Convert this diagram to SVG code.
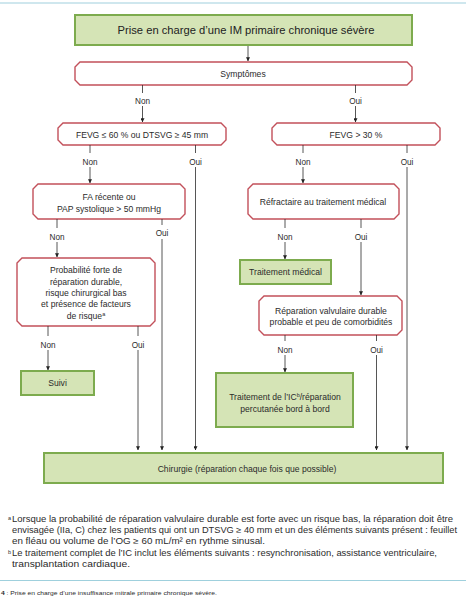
<svg xmlns="http://www.w3.org/2000/svg" width="466" height="600" viewBox="0 0 466 600">
<defs>
<marker id="ah" viewBox="0 0 6 6" refX="5.5" refY="3" markerWidth="4" markerHeight="4" orient="auto" markerUnits="userSpaceOnUse">
<path d="M0,0 L6,3 L0,6 z" fill="#222"/>
</marker>
<style>
text{font-family:"Liberation Sans",Arial,sans-serif;fill:#2b2b2b;}
.g{fill:#d5e4b6;stroke:#7dab4e;stroke-width:2;}
.r{fill:#fff;stroke:#c2505a;stroke-width:1.4;}
.t{font-size:8.6px;text-anchor:middle;}
.lb{font-size:8.2px;text-anchor:middle;}
.c{stroke:#2b2b2b;stroke-width:0.8;fill:none;}
.a{stroke:#2b2b2b;stroke-width:0.8;fill:none;marker-end:url(#ah);}
.fn{font-size:8.7px;}
.sep{stroke:#9fd0dd;stroke-width:1.2;}
</style>
</defs>
<rect width="466" height="600" fill="#fff"/>
<line class="sep" x1="0" y1="3" x2="466" y2="3"/>
<g id="title">
<rect class="g" x="75" y="15" width="337" height="30"/>
<text x="246" y="34" style="font-size:11.2px;text-anchor:middle;fill:#222">Prise en charge d’une IM primaire chronique sévère</text>
</g>
<g id="symptomes">
<path class="r" d="M80,62 H407 L412,67 V80 L407,85 H80 L75,80 V67 Z"/>
<text class="t" x="243" y="77">Symptômes</text>
</g>
<g id="fevg60">
<path class="r" d="M63,123 H221 L226,128 V140 L221,145 H63 L58,140 V128 Z"/>
<text class="t" x="142" y="138">FEVG ≤ 60 % ou DTSVG ≥ 45 mm</text>
</g>
<g id="fevg30">
<path class="r" d="M277,123 H435 L440,128 V140 L435,145 H277 L272,140 V128 Z"/>
<text class="t" x="356" y="138">FEVG &gt; 30 %</text>
</g>
<g id="fa">
<path class="r" d="M38,184 H180 L185,189 V214 L180,219 H38 L33,214 V189 Z"/>
<text class="t" x="109" y="200">FA récente ou</text>
<text class="t" x="109" y="212">PAP systolique &gt; 50 mmHg</text>
</g>
<g id="refractaire">
<path class="r" d="M253,184 H394 L399,189 V214 L394,219 H253 L248,214 V189 Z"/>
<text class="t" x="323" y="205">Réfractaire au traitement médical</text>
</g>
<g id="probabilite">
<path class="r" d="M22,258 H150 L155,263 V321 L150,326 H22 L17,321 V263 Z"/>
<text class="t" x="86" y="273">Probabilité forte de</text>
<text class="t" x="86" y="285">réparation durable,</text>
<text class="t" x="86" y="296">risque chirurgical bas</text>
<text class="t" x="86" y="307">et présence de facteurs</text>
<text class="t" x="86" y="319">de risque<tspan style="font-size:5.5px" dy="-3">a</tspan></text>
</g>
<g id="traitement-medical">
<rect class="g" x="240" y="260" width="91" height="24"/>
<text class="t" x="285.5" y="275">Traitement médical</text>
</g>
<g id="reparation">
<path class="r" d="M264,296 H397 L402,301 V330 L397,335 H264 L259,330 V301 Z"/>
<text class="t" x="331" y="314">Réparation valvulaire durable</text>
<text class="t" x="331" y="325">probable et peu de comorbidités</text>
</g>
<g id="suivi">
<rect class="g" x="21" y="371" width="73" height="24"/>
<text class="t" x="57.5" y="386">Suivi</text>
</g>
<g id="traitement-ic">
<rect class="g" x="216" y="373" width="137" height="54"/>
<text class="t" x="285" y="400">Traitement de l’IC<tspan style="font-size:5.5px" dy="-3">b</tspan><tspan dy="3">/réparation</tspan></text>
<text class="t" x="285" y="412">percutanée bord à bord</text>
</g>
<g id="chirurgie">
<rect class="g" x="44" y="453" width="399" height="30"/>
<text class="t" x="247" y="472">Chirurgie (réparation chaque fois que possible)</text>
</g>
<g id="connectors">
<line class="a" x1="248" y1="46" x2="248" y2="61"/>
<line class="c" x1="142.5" y1="85" x2="142.5" y2="93"/>
<line class="a" x1="142.5" y1="106" x2="142.5" y2="122"/>
<line class="c" x1="355.5" y1="85" x2="355.5" y2="93"/>
<line class="a" x1="355.5" y1="106" x2="355.5" y2="122"/>
<line class="c" x1="90" y1="145" x2="90" y2="153"/>
<line class="a" x1="90" y1="167" x2="90" y2="183"/>
<line class="c" x1="195.5" y1="145" x2="195.5" y2="153"/>
<line class="a" x1="195.5" y1="167" x2="195.5" y2="450"/>
<line class="c" x1="303" y1="145" x2="303" y2="153"/>
<line class="a" x1="303" y1="167" x2="303" y2="183"/>
<line class="c" x1="407" y1="145" x2="407" y2="153"/>
<line class="a" x1="407" y1="167" x2="407" y2="450"/>
<line class="c" x1="57" y1="219" x2="57" y2="228"/>
<line class="a" x1="57" y1="242" x2="57" y2="257"/>
<line class="c" x1="162" y1="219" x2="162" y2="225"/>
<line class="a" x1="162" y1="239" x2="162" y2="450"/>
<line class="c" x1="285" y1="219" x2="285" y2="228"/>
<line class="a" x1="285" y1="242" x2="285" y2="259"/>
<line class="c" x1="361" y1="219" x2="361" y2="228"/>
<line class="a" x1="361" y1="242" x2="361" y2="295"/>
<line class="c" x1="48" y1="326" x2="48" y2="336"/>
<line class="a" x1="48" y1="350" x2="48" y2="370"/>
<line class="c" x1="138" y1="326" x2="138" y2="336"/>
<line class="a" x1="138" y1="350" x2="138" y2="450"/>
<line class="c" x1="285" y1="335" x2="285" y2="341"/>
<line class="a" x1="285" y1="355" x2="285" y2="372"/>
<line class="c" x1="376.5" y1="335" x2="376.5" y2="341"/>
<line class="a" x1="376.5" y1="355" x2="376.5" y2="450"/>
<text class="lb" x="142.5" y="104">Non</text>
<text class="lb" x="355.5" y="104">Oui</text>
<text class="lb" x="90" y="165">Non</text>
<text class="lb" x="195.5" y="165">Oui</text>
<text class="lb" x="303" y="165">Non</text>
<text class="lb" x="407" y="165">Oui</text>
<text class="lb" x="57" y="240">Non</text>
<text class="lb" x="162" y="236">Oui</text>
<text class="lb" x="285" y="240">Non</text>
<text class="lb" x="361" y="240">Oui</text>
<text class="lb" x="48" y="348">Non</text>
<text class="lb" x="138" y="348">Oui</text>
<text class="lb" x="285" y="353">Non</text>
<text class="lb" x="376.5" y="353">Oui</text>
</g>
<g id="footnotes">
<text x="8" y="520" style="font-size:5.5px">a</text>
<text class="fn" x="12" y="522" textLength="441" lengthAdjust="spacingAndGlyphs">Lorsque la probabilité de réparation valvulaire durable est forte avec un risque bas, la réparation doit être</text>
<text class="fn" x="12" y="533" textLength="445" lengthAdjust="spacingAndGlyphs">envisagée (IIa, C) chez les patients qui ont un DTSVG ≥ 40 mm et un des éléments suivants présent : feuillet</text>
<text class="fn" x="12" y="544" textLength="253" lengthAdjust="spacingAndGlyphs">en fléau ou volume de l’OG ≥ 60 mL/m² en rythme sinusal.</text>
<text x="8" y="554" style="font-size:5.5px">b</text>
<text class="fn" x="12" y="556" textLength="425" lengthAdjust="spacingAndGlyphs">Le traitement complet de l’IC inclut les éléments suivants : resynchronisation, assistance ventriculaire,</text>
<text class="fn" x="12" y="567" textLength="118" lengthAdjust="spacingAndGlyphs">transplantation cardiaque.</text>
</g>
<line class="sep" x1="0" y1="580.5" x2="466" y2="580.5"/>
<text x="1" y="595" style="font-size:5.2px" textLength="216" lengthAdjust="spacingAndGlyphs"><tspan font-weight="bold">4</tspan> : Prise en charge d’une insuffisance mitrale primaire chronique sévère.</text>
</svg>
